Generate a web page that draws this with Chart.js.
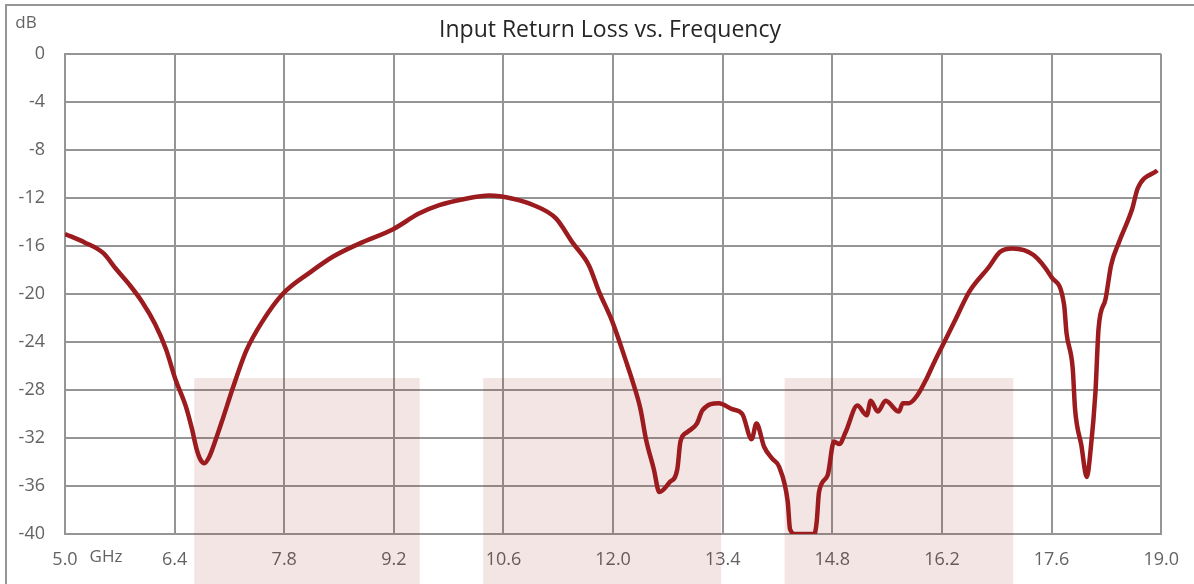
<!DOCTYPE html>
<html>
<head>
<meta charset="utf-8">
<script src="https://cdn.jsdelivr.net/npm/chart.js@4/dist/chart.umd.min.js"></script>
<style>
  html, body { margin: 0; padding: 0; background: #fff; }
  #wrap { width: 1194px; height: 584px; position: relative; }
</style>
</head>
<body>
<div id="wrap"><canvas id="rlChart" width="1194" height="584"></canvas></div>
<script>
// frequency points (GHz) and return loss (dB)
const freq = [
  5.00, 5.25, 5.49, 5.65, 5.82, 5.99, 6.15, 6.29, 6.41, 6.54,
  6.62, 6.68, 6.73, 6.78, 6.84, 6.90, 7.02, 7.14, 7.31, 7.52,
  7.78, 8.13, 8.42, 8.76, 9.19, 9.52, 9.78, 10.12, 10.42, 10.72,
  10.97, 11.27, 11.48, 11.69, 11.82, 11.99, 12.17, 12.25, 12.35, 12.42,
  12.52, 12.59, 12.72, 12.82, 12.86, 12.95, 13.07, 13.14, 13.35, 13.52,
  13.65, 13.77, 13.83, 13.93, 14.03, 14.12, 14.23, 14.26, 14.33, 14.57,
  14.60, 14.63, 14.74, 14.82, 14.89, 14.97, 15.12, 15.24, 15.29, 15.38,
  15.48, 15.65, 15.70, 15.78, 15.89, 16.00, 16.10, 16.23, 16.36, 16.55,
  16.80, 16.94, 17.10, 17.37, 17.60, 17.76, 17.79, 17.87, 17.90, 17.98,
  18.05, 18.10, 18.16, 18.20, 18.29, 18.36, 18.46, 18.63, 18.70, 18.95
]
const returnLoss = [
  -15.0, -15.7, -16.6, -17.9, -19.2, -20.7, -22.5, -24.6, -27.1, -29.3,
  -31.2, -32.9, -33.8, -34.1, -33.6, -32.6, -30.3, -27.9, -24.8, -22.3,
  -20.0, -18.2, -16.9, -15.8, -14.6, -13.3, -12.6, -12.06, -11.8, -12.06,
  -12.56, -13.7, -15.7, -17.6, -19.8, -22.3, -25.7, -27.3, -29.6, -32.1,
  -34.6, -36.5, -35.7, -34.6, -32.3, -31.5, -30.8, -29.7, -29.1, -29.6,
  -30.0, -32.1, -30.8, -32.75, -33.7, -34.4, -37.3, -39.6, -40.0, -40.0,
  -39.0, -36.5, -35.1, -32.3, -32.5, -31.5, -29.3, -30.1, -28.9, -29.8,
  -28.9, -29.8, -29.1, -29.1, -28.4, -27.1, -25.7, -24.0, -22.3, -19.8,
  -17.75, -16.5, -16.2, -16.75, -18.6, -20.9, -23.2, -26.2, -29.6, -32.6,
  -35.25, -32.9, -28.2, -22.9, -20.4, -17.6, -15.7, -12.9, -11.2, -9.7
]

// shaded spec bands
const bandStart = [6.65, 10.34, 14.19]
const bandEnd = [9.53, 13.38, 17.11]
const bandTop = -27

const xTicks = [5.0, 6.4, 7.8, 9.2, 10.6, 12.0, 13.4, 14.8, 16.2, 17.6, 19.0]
const yTicks = [0, -4, -8, -12, -16, -20, -24, -28, -32, -36, -40]

const lineColor = '#9b1b1e'
const gridColor = '#959595'
const labelColor = '#636363'

const bandsPlugin = {
  id: 'bands',
  beforeDatasetsDraw(chart) {
    const { ctx, scales: { x, y } } = chart
    ctx.save()
    ctx.fillStyle = 'rgba(155, 27, 30, 0.115)'
    const top = y.getPixelForValue(bandTop)
    for (let i = 0; i < bandStart.length; i++) {
      const x0 = x.getPixelForValue(bandStart[i])
      const x1 = x.getPixelForValue(bandEnd[i])
      ctx.fillRect(x0, top, x1 - x0, chart.height - top)
    }
    ctx.restore()
  }
}

const textPlugin = {
  id: 'texts',
  beforeDraw(chart) {
    const ctx = chart.ctx
    ctx.save()
    ctx.fillStyle = '#fff'
    ctx.fillRect(0, 0, chart.width, chart.height)
    ctx.strokeStyle = gridColor
    ctx.lineWidth = 2
    ctx.strokeRect(6, 5, chart.width + 20, chart.height + 20)
    ctx.restore()
  },
  afterDraw(chart) {
    const ctx = chart.ctx
    ctx.save()
    ctx.textAlign = 'center'
    ctx.textBaseline = 'middle'
    ctx.fillStyle = '#262626'
    ctx.font = '23px "Open Sans"'
    ctx.fillText('Input Return Loss vs. Frequency', 610, 30)
    ctx.fillStyle = labelColor
    ctx.font = '17px "Open Sans"'
    ctx.fillText('dB', 26, 23)
    ctx.fillText('GHz', 106, 557)
    ctx.restore()
  }
}

const ctx = document.getElementById('rlChart')
new Chart(ctx, {
  type: 'line',
  data: {
    datasets: [{
      data: freq.map((f, i) => ({ x: f, y: returnLoss[i] })),
      borderColor: lineColor,
      borderWidth: 4.5,
      pointRadius: 0,
      tension: 0.4,
      cubicInterpolationMode: 'monotone',
      fill: false
    }]
  },
  options: {
    responsive: false,
    animation: false,
    layout: { padding: { top: 54, right: 31, left: 0, bottom: 0 } },
    plugins: {
      legend: { display: false },
      tooltip: { enabled: false },
      title: { display: false }
    },
    scales: {
      x: {
        type: 'linear',
        min: 5,
        max: 19,
        afterBuildTicks: s => { s.ticks = xTicks.map(v => ({ value: v })) },
        afterFit: s => { s.height = 50 },
        grid: { color: gridColor, lineWidth: 2, drawTicks: false },
        border: { color: gridColor, width: 2 },
        ticks: {
          padding: 15,
          color: labelColor,
          font: { family: 'Open Sans', size: 18 },
          maxRotation: 0,
          callback: v => v.toFixed(1)
        }
      },
      y: {
        min: -40,
        max: 0,
        afterBuildTicks: s => { s.ticks = yTicks.map(v => ({ value: v })) },
        afterFit: s => { s.width = 65 },
        grid: { color: gridColor, lineWidth: 2, drawTicks: false },
        border: { color: gridColor, width: 2 },
        ticks: {
          padding: 20,
          color: labelColor,
          font: { family: 'Open Sans', size: 18 },
          callback: v => String(v)
        }
      }
    }
  },
  plugins: [bandsPlugin, textPlugin]
})
</script>
</body>
</html>
